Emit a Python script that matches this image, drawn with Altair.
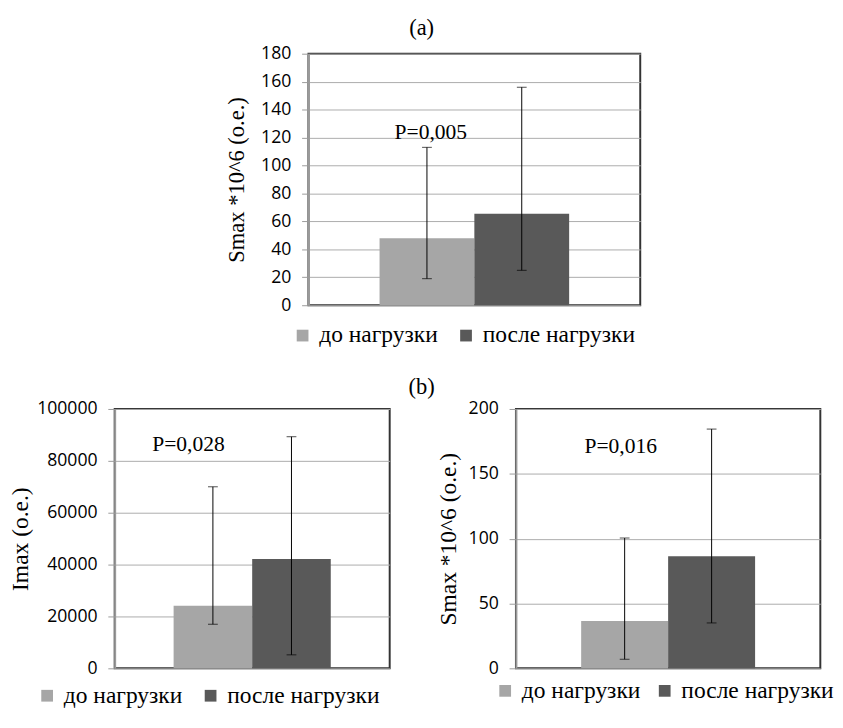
import altair as alt
import pandas as pd

groups = ["до нагрузки", "после нагрузки"]
colors = ["#a6a6a6", "#595959"]

# Panel (a): Smax *10^6
a_mean = [48, 65.5]
a_low = [19, 25]
a_high = [113, 156]
a_p = "P=0,005"
a_p_y = 124

# Panel (b), left: Imax
b1_mean = [24100, 42200]
b1_low = [17000, 5200]
b1_high = [70000, 89300]
b1_p = "P=0,028"
b1_p_y = 86400

# Panel (b), right: Smax *10^6
b2_mean = [36.5, 86.5]
b2_low = [7, 35]
b2_high = [100.5, 184.5]
b2_p = "P=0,016"
b2_p_y = 171

SERIF = "Liberation Serif"
SANS = "Open Sans"


def panel(mean, low, high, ymax, ystep, ytitle, ptext, p_y, p_dx, w, h,
          title_size, title_pad, legx, legy, col_pad):
    df = pd.DataFrame({"grp": groups, "mean": mean, "lo": low, "hi": high})
    x = alt.X("grp:N", sort=groups, axis=None,
              scale=alt.Scale(paddingInner=0, paddingOuter=0.75))
    ysc = alt.Scale(domain=[0, ymax], nice=False)
    yax = alt.Axis(values=list(range(0, ymax + 1, ystep)), format="d",
                   grid=True, gridColor="#ababab", gridWidth=1,
                   domainColor="#9a9a9a", domainWidth=2,
                   tickColor="#9a9a9a", tickSize=7, tickWidth=1,
                   labelFont=SANS, labelFontSize=18, labelColor="black",
                   labelPadding=11, labelOverlap=False,
                   titleFont=SERIF, titleFontSize=title_size,
                   titleFontWeight="normal", titleColor="black",
                   titlePadding=title_pad)

    def Y(field):
        return alt.Y(field, scale=ysc, axis=yax, title=ytitle)

    bars = alt.Chart(df).mark_bar().encode(
        x=x,
        y=Y("mean:Q"),
        color=alt.Color("grp:N", sort=groups,
                        scale=alt.Scale(domain=groups, range=colors),
                        legend=alt.Legend(
                            title=None, orient="none", legendX=legx,
                            legendY=h + legy, direction="horizontal",
                            symbolType="square", symbolSize=144,
                            symbolStrokeWidth=0, labelFont=SERIF,
                            labelFontSize=24, labelColor="black",
                            columnPadding=col_pad, labelOffset=5,
                            padding=0, labelLimit=400)),
    )
    rules = alt.Chart(df).mark_rule(color="black", strokeWidth=1).encode(
        x=x, y=Y("lo:Q"), y2="hi:Q")
    cap_hi = alt.Chart(df).mark_tick(color="black", size=10, thickness=1).encode(
        x=x, y=Y("hi:Q"))
    cap_lo = alt.Chart(df).mark_tick(color="black", size=10, thickness=1).encode(
        x=x, y=Y("lo:Q"))
    pdf = pd.DataFrame({"grp": [groups[0]], "py": [p_y], "t": [ptext]})
    ptxt = alt.Chart(pdf).mark_text(font=SERIF, fontSize=22, color="black",
                                    dx=p_dx, baseline="middle").encode(
        x=x, y=Y("py:Q"), text="t:N")
    return alt.layer(bars, rules, cap_hi, cap_lo, ptxt).properties(
        width=w, height=h,
        view=alt.ViewBackground(stroke="#333333", strokeWidth=2))


chart_a = panel(a_mean, a_low, a_high, 180, 20, "Smax *10^6 (o.e.)",
                a_p, a_p_y, 4, 339, 257, 23, 12, -18, 19, 16)
chart_b1 = panel(b1_mean, b1_low, b1_high, 100000, 20000, "Imax (o.e.)",
                 b1_p, b1_p_y, -25, 281, 265, 24, 4, -81, 16, 16)
chart_b2 = panel(b2_mean, b2_low, b2_high, 200, 50, "Smax *10^6 (o.e.)",
                 b2_p, b2_p_y, -4, 311, 265, 24, 8, -23, 11, 12)

bottom_row = alt.hconcat(
    chart_b1, chart_b2, spacing=46,
    title=alt.TitleParams("(b)", font=SERIF, fontSize=23, fontWeight="normal",
                          color="black", anchor="middle", offset=0)
).resolve_scale(color="independent", y="independent")

chart = alt.concat(
    chart_a, bottom_row, columns=1, spacing=29, align="each",
    center=alt.RowColboolean(column=True, row=False),
    title=alt.TitleParams("(a)", font=SERIF, fontSize=23, fontWeight="normal",
                          color="black", anchor="middle", offset=4)
).resolve_scale(
    color="independent", y="independent"
).properties(
    padding={"top": 2, "left": 0, "right": 0, "bottom": 0}
).configure_view(stroke="transparent")

chart.save("out.html", embed_options={"renderer": "svg", "actions": False})
